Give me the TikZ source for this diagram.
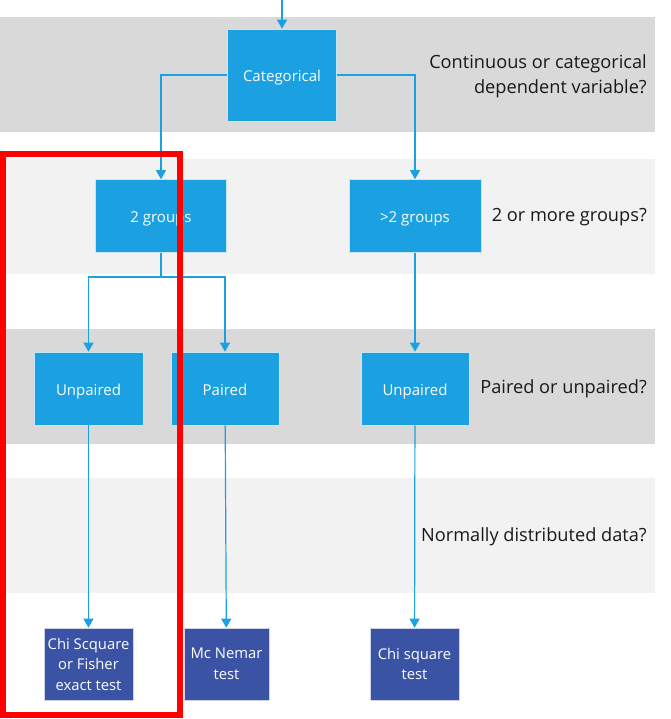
\documentclass[tikz,border=0pt]{standalone}
\usepackage{fontspec}
\setmainfont{Open Sans}
\usetikzlibrary{arrows.meta}
\usetikzlibrary{positioning}
\definecolor{boxblue}{HTML}{1BA1E2}
\definecolor{testblue}{HTML}{3A53A4}
\definecolor{banddark}{HTML}{D9D9D9}
\definecolor{bandlight}{HTML}{F2F2F2}
\definecolor{redframe}{HTML}{FF0000}
\tikzset{
  choice/.style={fill=boxblue,draw=white!75!boxblue,line width=0.6pt,text=white,
    inner sep=0pt,minimum width=109pt,minimum height=73pt,text height=14pt,text depth=1pt,
    font=\fontsize{15}{18}\selectfont},
  testbox/.style={fill=testblue,draw=white!75!testblue,line width=0.6pt,text=white,
    inner sep=0pt,minimum width=89pt,minimum height=72pt,align=center,
    font=\fontsize{14.8}{20.5}\selectfont},
  question/.style={anchor=east,align=right,text=black!90,inner sep=0pt,
    font=\fontsize{18.2}{25}\selectfont},
  flow/.style={draw=boxblue,line width=1.2pt,-{Triangle[length=9pt,width=10pt]}},
}
\begin{document}
\begin{tikzpicture}[x=1pt,y=-1pt]
  \useasboundingbox (0,0) rectangle (670,719);
  % Bands
  \fill[banddark]  (0,17)  rectangle (655,132);
  \fill[bandlight] (0,159) rectangle (655,274);
  \fill[banddark]  (0,329) rectangle (655,444);
  \fill[bandlight] (0,478) rectangle (655,593);

  % Questions
  \node[question] (q1) at (647,76)  {Continuous or categorical\\dependent variable?};
  \node[question] (q2) at (647,217) {2 or more groups?};
  \node[question] (q3) at (647,389) {Paired or unpaired?};
  \node[question] (q4) at (647,537) {Normally distributed data?};

  % Choices
  \node[choice,minimum height=92pt] (cat) at (282,75)  {Categorical};
  \node[choice,minimum width=131pt] (two) at (161,216) {2 groups};
  \node[choice,minimum width=132pt] (more) at (415,216) {>2 groups};
  \node[choice] (unpA) at (88.5,388.5) {Unpaired};
  \node[choice,minimum width=108pt] (pair) at (225,388.5) {Paired};
  \node[choice,minimum width=108pt] (unpB) at (415,388.5) {Unpaired};

  % Tests
  \node[testbox] (chiA) at (88.5,664) {Chi Scquare\\or Fisher\\exact test};
  \node[testbox,minimum width=85pt] (mcn) at (226.5,664) {Mc Nemar\\test};
  \node[testbox] (chiB) at (414.5,664) {Chi square\\test};

  % Wiring
  \coordinate (entry) at (282,0);
  \coordinate (split) at (161,277);
  \draw[flow] (entry) -- (cat);
  \draw[flow] (cat.west) -| (two.north);
  \draw[flow] (cat.east) -| (more.north);
  \draw[flow] (two.south) -- (split) -| (unpA.north);
  \draw[flow] (split) -| (pair.north);
  \draw[flow] (more) -- (unpB);
  \draw[flow] (unpA) -- (chiA);
  \draw[flow] (pair) -- (mcn);
  \draw[flow] (unpB) -- (chiB);

  % Highlight
  \draw[redframe,line width=6pt] (3,154.5) rectangle (180,715);
\end{tikzpicture}
\end{document}
